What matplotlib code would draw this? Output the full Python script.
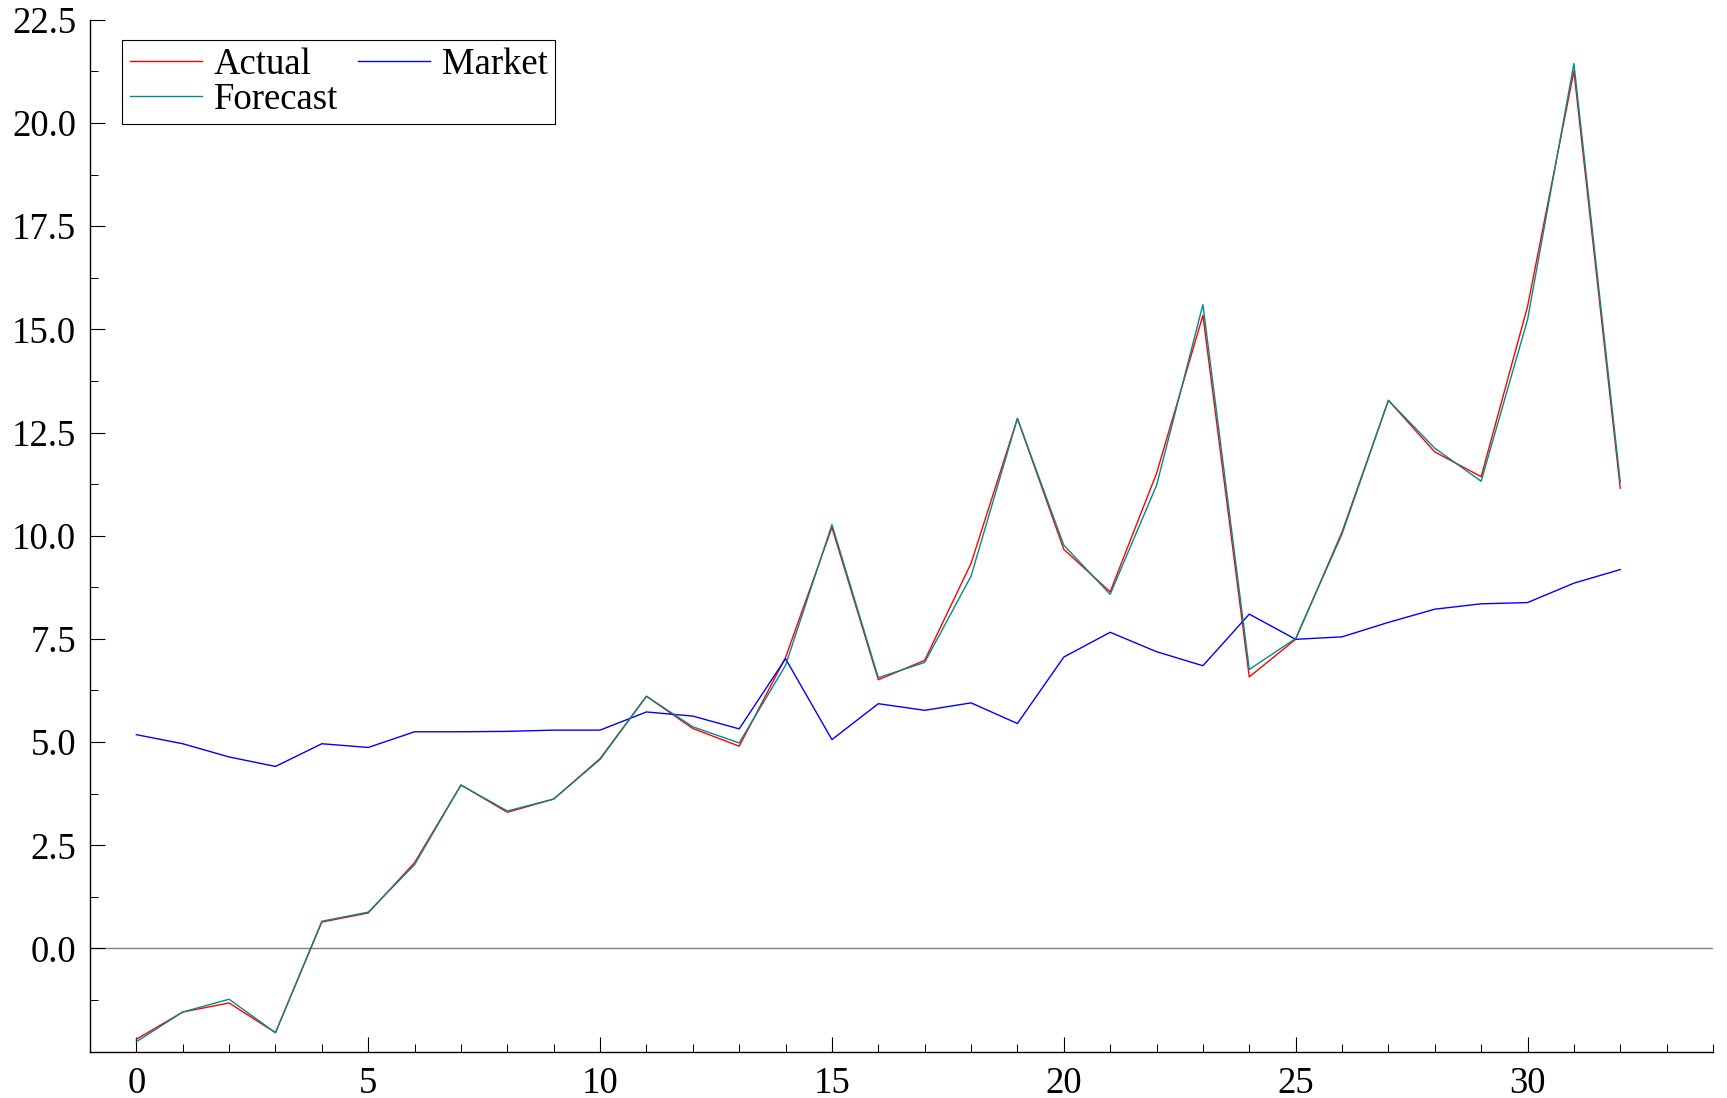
import matplotlib
matplotlib.use("Agg")
import matplotlib.pyplot as plt
import numpy as np
from matplotlib.ticker import MultipleLocator, FixedLocator, FormatStrFormatter

# observations 0..32
obs = list(range(33))
actual = [-2.20, -1.54, -1.32, -2.04, 0.64, 0.86, 2.08, 3.96, 3.30, 3.62, 4.60,
          6.11, 5.33, 4.90, 7.05, 10.20, 6.51, 6.98, 9.33, 12.84, 9.67, 8.64,
          11.51, 15.34, 6.58, 7.49, 10.09, 13.28, 12.03, 11.43, 15.55, 21.26, 11.15]
forecast = [-2.26, -1.54, -1.23, -2.04, 0.66, 0.88, 2.03, 3.96, 3.33, 3.62, 4.58,
            6.11, 5.37, 4.98, 6.86, 10.27, 6.56, 6.93, 9.02, 12.84, 9.77, 8.58,
            11.22, 15.60, 6.76, 7.51, 10.04, 13.28, 12.12, 11.32, 15.23, 21.44, 11.30]
market = [5.18, 4.96, 4.64, 4.41, 4.96, 4.87, 5.25, 5.25, 5.26, 5.29, 5.29,
          5.73, 5.63, 5.32, 7.02, 5.06, 5.93, 5.77, 5.95, 5.45, 7.06, 7.66,
          7.19, 6.85, 8.10, 7.49, 7.55, 7.90, 8.22, 8.35, 8.38, 8.85, 9.18]

plt.rcParams['font.family'] = ['Liberation Serif', 'DejaVu Serif']

fig = plt.figure(figsize=(17.27, 10.98), dpi=100)
ax = fig.add_axes([0.0521, 0.0422, 0.9398, 0.9398])

ax.axhline(0, color='#808080', lw=1.0, zorder=1)
l_act, = ax.plot(obs, actual, color='#ff0000', lw=1.0, label='Actual', zorder=2)
l_mkt, = ax.plot(obs, market, color='#0000ff', lw=1.0, label='Market', zorder=3)
l_fc, = ax.plot(obs, forecast, color='#008b8b', lw=1.0, label='Forecast', zorder=4)

ax.set_xlim(-1, 34)
ax.set_ylim(-2.5, 22.5)

ax.xaxis.set_major_locator(MultipleLocator(5))
ax.xaxis.set_major_formatter(FormatStrFormatter('%d'))
ax.xaxis.set_minor_locator(FixedLocator([i for i in range(0, 35) if i % 5 != 0]))
ax.yaxis.set_major_locator(FixedLocator(np.arange(0, 22.51, 2.5)))
ax.yaxis.set_major_formatter(FormatStrFormatter('%.1f'))
ax.yaxis.set_minor_locator(FixedLocator(np.arange(-1.25, 22.5, 2.5)))

ax.spines['top'].set_visible(False)
ax.spines['right'].set_visible(False)
for s in ['left', 'bottom']:
    ax.spines[s].set_linewidth(1.0)

ax.tick_params(which='major', direction='in', length=11, width=0.8, labelsize=26.5, pad=10)
ax.tick_params(which='minor', direction='in', length=5.5, width=0.7)
ax.tick_params(axis='x', which='major', pad=11)

leg = ax.legend([l_act, l_fc, l_mkt], ['Actual', 'Forecast', 'Market'],
                ncol=2, loc='upper left', bbox_to_anchor=(0.020, 0.98),
                borderaxespad=0, fontsize=26.5, fancybox=False, frameon=True,
                edgecolor='black', framealpha=1, handlelength=1.95,
                handletextpad=0.33, columnspacing=0.55, labelspacing=0.0,
                borderpad=0.2)
leg.get_frame().set_linewidth(0.8)

fig.savefig('out.png', dpi=100)
